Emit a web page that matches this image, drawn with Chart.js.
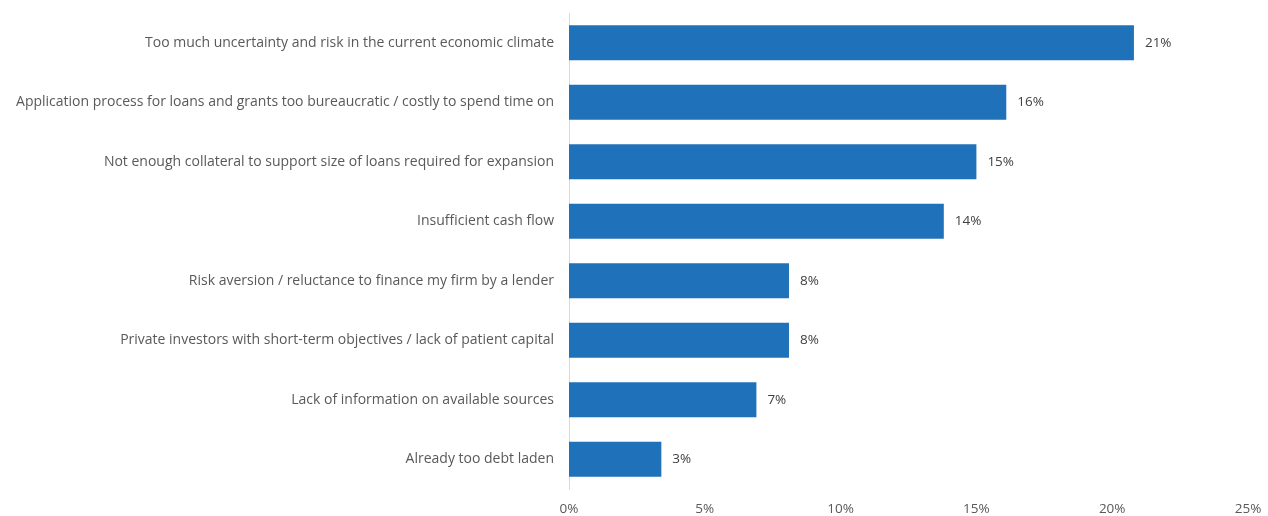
<!DOCTYPE html>
<html><head><meta charset="utf-8">
<script src="https://cdn.jsdelivr.net/npm/chart.js@4"></script>
<style>html,body{margin:0;padding:0;background:#fff}#wrap{width:1268px;height:516px}</style>
</head><body><div id="wrap"><canvas id="c"></canvas></div>
<script>
const categories = [
  "Too much uncertainty and risk in the current economic climate",
  "Application process for loans and grants too bureaucratic / costly to spend time on",
  "Not enough collateral to support size of loans required for expansion",
  "Insufficient cash flow",
  "Risk aversion / reluctance to finance my firm by a lender",
  "Private investors with short-term objectives / lack of patient capital",
  "Lack of information on available sources",
  "Already too debt laden"
];
const values = [20.8, 16.1, 15.0, 13.8, 8.1, 8.1, 6.9, 3.4];
const valueLabels = ["21%", "16%", "15%", "14%", "8%", "8%", "7%", "3%"];
const xTicks = [0, 5, 10, 15, 20, 25];

const FONT = "'Open Sans', 'Liberation Sans', sans-serif";
const labelPlugin = {
  id: 'valLabels',
  afterDatasetsDraw(chart) {
    const ctx = chart.ctx;
    const meta = chart.getDatasetMeta(0);
    ctx.save();
    ctx.font = "13.5px " + FONT;
    ctx.fillStyle = '#404040';
    ctx.textAlign = 'left';
    ctx.textBaseline = 'middle';
    meta.data.forEach((bar, i) => {
      ctx.fillText(valueLabels[i], bar.x + 11, bar.y);
    });
    ctx.restore();
  }
};

new Chart(document.getElementById('c'), {
  type: 'bar',
  data: {
    labels: categories,
    datasets: [{
      data: values,
      backgroundColor: '#1f72ba',
      borderWidth: 0,
      categoryPercentage: 1,
      barPercentage: 0.59
    }]
  },
  options: {
    indexAxis: 'y',
    responsive: true,
    maintainAspectRatio: false,
    animation: false,
    layout: { padding: { top: 13, right: 20, bottom: 0, left: 0 } },
    plugins: { legend: { display: false }, tooltip: { enabled: false } },
    scales: {
      x: {
        min: 0, max: 25,
        afterBuildTicks(axis) { axis.ticks = xTicks.map(v => ({ value: v })); },
        afterFit(axis) { axis.height = 27; axis.paddingLeft = 0; axis.paddingRight = 0; },
        grid: { display: false, drawTicks: false },
        border: { display: false },
        ticks: {
          padding: 12,
          color: '#595959',
          font: { family: FONT, size: 13.5 },
          callback: v => v + '%'
        }
      },
      y: {
        grid: { display: false, drawTicks: false },
        border: { display: true, color: '#d9d9d9', width: 1 },
        afterFit(axis) { axis.width = 569; axis.paddingTop = 0; axis.paddingBottom = 0; },
        ticks: {
          padding: 15,
          color: '#595959',
          font: { family: FONT, size: 14 }
        }
      }
    }
  },
  plugins: [labelPlugin]
});
</script></body></html>
